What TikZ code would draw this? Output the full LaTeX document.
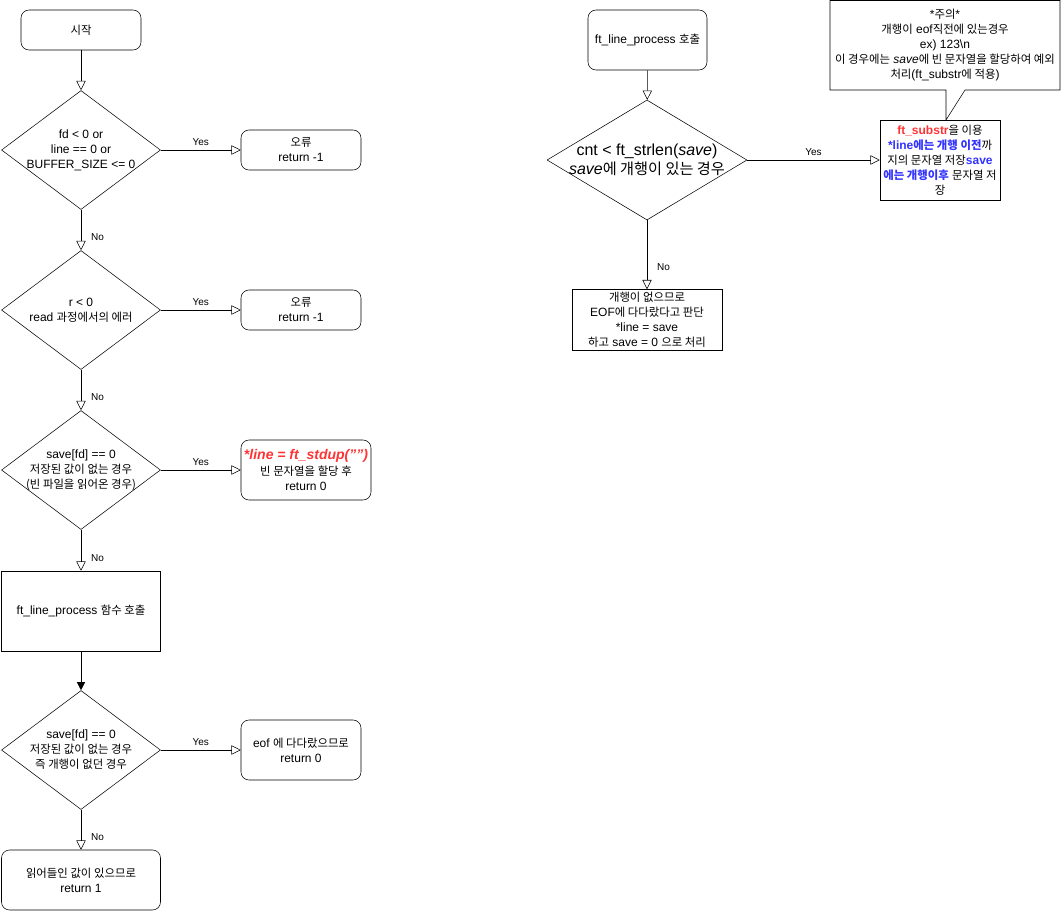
\documentclass[tikz,border=0pt]{standalone}
\usepackage{fontspec}
\setmainfont{Liberation Sans}
\newfontfamily\kr{Noto Sans CJK KR}[Scale=0.95]
\usetikzlibrary{shapes.geometric,arrows.meta}
\definecolor{hlred}{HTML}{FF3333}
\definecolor{hlblue}{HTML}{3333FF}
\begin{document}
\begin{tikzpicture}[x=0.75pt,y=-0.75pt,font=\fontsize{9}{11.3}\selectfont,
    rbox/.style={draw,rounded corners=6pt,align=center,minimum width=90pt,minimum height=30pt,inner sep=2pt},
    sbox/.style={draw,align=center,inner sep=2pt},
    dia/.style={draw,diamond,inner sep=0pt,minimum width=119.25pt,minimum height=89.25pt},
    dtext/.style={align=center,inner sep=0pt},
    flow/.style={-{Triangle[open,length=7pt,width=7pt]}},
    yn/.style={font=\fontsize{7.5}{9}\selectfont}]
\useasboundingbox (0,0) rectangle (1061,911);

% left column
\node[rbox] (start) at (81,30) {{\kr 시작}};
\node[dia,label={[dtext]center:fd < 0 or\\line == 0 or\\BUFFER\_SIZE <= 0}] (chk1) at (81,150) {};
\node[rbox] (err1) at (301,150) {{\kr 오류}\\return -1};
\node[dia,label={[dtext]center:r < 0\\read {\kr 과정에서의 에러}}] (chk2) at (81,310) {};
\node[rbox] (err2) at (301,310) {{\kr 오류}\\return -1};
\node[dia,label={[dtext]center:save[fd] == 0\\{\kr 저장된 값이 없는 경우}\\{\kr (빈 파일을 읽어온 경우)}}] (chk3) at (81,470) {};
\node[rbox,minimum width=97.5pt,minimum height=45pt] (empty) at (306,470)
    {\textcolor{hlred}{\fontsize{10.5}{12}\selectfont\bfseries\itshape *line = ft\_stdup(\symbol{34}\symbol{34})}\\{\kr 빈 문자열을 할당 후}\\return 0};
\node[sbox,minimum width=119.25pt,minimum height=60pt] (proc) at (81,611) {ft\_line\_process {\kr 함수 호출}};
\node[dia,label={[dtext]center:save[fd] == 0\\{\kr 저장된 값이 없는 경우}\\{\kr 즉 개행이 없던 경우}}] (chk4) at (81,750) {};
\node[rbox,minimum height=45pt] (eof) at (301,750) {eof {\kr 에 다다랐으므로}\\return 0};
\node[rbox,minimum width=119.25pt,minimum height=45pt] (done) at (81,880) {{\kr 읽어들인 값이 있으므로}\\return 1};

\draw[flow] (start) -- (chk1);
\draw[flow] (chk1) -- node[yn,above]{Yes} (err1);
\draw[flow] (chk1) -- node[yn,right,xshift=4pt,pos=0.68]{No} (chk2);
\draw[flow] (chk2) -- node[yn,above]{Yes} (err2);
\draw[flow] (chk2) -- node[yn,right,xshift=4pt,pos=0.68]{No} (chk3);
\draw[flow] (chk3) -- node[yn,above]{Yes} (empty);
\draw[flow] (chk3) -- node[yn,right,xshift=4pt,pos=0.68]{No} (proc);
\draw[-{Triangle[length=6pt,width=6pt]}] (proc) -- (chk4);
\draw[flow] (chk4) -- node[yn,above]{Yes} (eof);
\draw[flow] (chk4) -- node[yn,right,xshift=4pt,pos=0.68]{No} (done);

% right column
\node[rbox,minimum width=89.25pt,minimum height=45pt] (call) at (647.5,40) {ft\_line\_process {\kr 호출}};
\node[dia,minimum width=150pt,minimum height=90pt,
    label={[dtext,font=\fontsize{12}{14}\selectfont]center:cnt < ft\_strlen(\textit{save})\\\textit{save}{\kr 에 개행이 있는 경우}}] (hasnl) at (647,160) {};
\node[sbox,minimum width=90pt,minimum height=60pt,inner sep=1pt] (split) at (940,160)
    {\textcolor{hlred}{\bfseries ft\_substr}{\kr 을 이용}\\
     \textcolor{hlblue}{\bfseries *line{\kr 에는 개행 이전}}{\kr 까}\\
     {\kr 지의 문자열 저장}\textcolor{hlblue}{\bfseries save}\\
     \textcolor{hlblue}{\bfseries\kr 에는 개행이후} {\kr 문자열 저}\\
     {\kr 장}};
\node[sbox,minimum width=112.5pt,minimum height=45pt] (noline) at (647,320)
    {{\kr 개행이 없으므로}\\EOF{\kr 에 다다랐다고 판단}\\*line = save\\{\kr 하고} save = 0 {\kr 으로 처리}};
\node[align=center,inner sep=0pt] (note) at (945,45)
    {*{\kr 주의}*\\{\kr 개행이} eof{\kr 직전에 있는경우}\\ex) 123\textbackslash n\\{\kr 이 경우에는} \textit{save}{\kr 에 빈 문자열을 할당하여 예외}\\{\kr 처리}(ft\_substr{\kr 에 적용})};
\draw (830,0.5) -- (1060,0.5) -- (1060,90) -- (965,90) -- (946,120) -- (946,90) -- (830,90) -- cycle;

\draw[flow] (call) -- (hasnl);
\draw[flow] (hasnl) -- node[yn,above]{Yes} (split);
\draw[flow] (hasnl) -- node[yn,right,xshift=4pt,pos=0.68]{No} (noline);
\end{tikzpicture}
\end{document}
